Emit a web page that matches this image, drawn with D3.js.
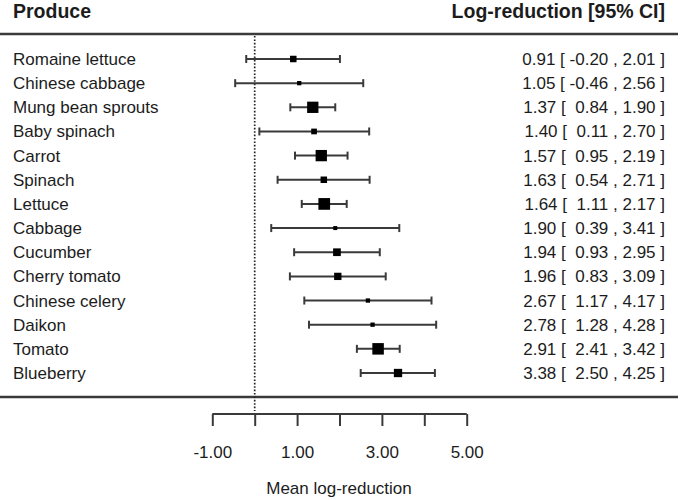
<!DOCTYPE html>
<html>
<head>
<meta charset="utf-8">
<script src="https://cdn.jsdelivr.net/npm/d3@7"></script>
<style>
  html, body { margin: 0; padding: 0; background: #fff; }
  svg { display: block; font-family: "Liberation Sans", Arial, Helvetica, sans-serif; }
</style>
</head>
<body>
<svg id="chart" width="680" height="500"></svg>
<script>
// ---- data ----
const produce = ["Romaine lettuce", "Chinese cabbage", "Mung bean sprouts", "Baby spinach", "Carrot",
  "Spinach", "Lettuce", "Cabbage", "Cucumber", "Cherry tomato", "Chinese celery", "Daikon", "Tomato", "Blueberry"];
const estimate = [0.91, 1.05, 1.37, 1.40, 1.57, 1.63, 1.64, 1.90, 1.94, 1.96, 2.67, 2.78, 2.91, 3.38];
const lower    = [-0.20, -0.46, 0.84, 0.11, 0.95, 0.54, 1.11, 0.39, 0.93, 0.83, 1.17, 1.28, 2.41, 2.50];
const upper    = [2.01, 2.56, 1.90, 2.70, 2.19, 2.71, 2.17, 3.41, 2.95, 3.09, 4.17, 4.28, 3.42, 4.25];
const weights  = [6.5, 4.3, 11.3, 5.7, 11.3, 6.5, 11.7, 4.0, 7.7, 7.3, 4.3, 4.3, 11.5, 8.3];
const tickValues = [-1, 0, 1, 2, 3, 4, 5];
const tickLabels = [-1, 1, 3, 5];
const headerLeft = "Produce";
const headerRight = "Log-reduction [95% CI]";
const axisTitle = "Mean log-reduction";

// ---- drawing ----
const svg = d3.select("#chart");
const ink = "#1c1c1c";
const lineCol = "#3a3a3a";

const x = d3.scaleLinear().domain([-1, 5]).range([212.3, 466.7]);
const y = d3.scalePoint().domain(produce).range([59, 373]);
const size = d3.scaleLinear().domain([0, d3.max(weights)]).range([0, 11.7]);

const rows = produce.map((p, i) => ({ p, est: estimate[i], lo: lower[i], hi: upper[i], w: weights[i] }));

// headers
svg.append("text").attr("x", 13).attr("y", 17.5)
  .attr("font-size", 19.5).attr("font-weight", "bold").attr("fill", ink).text(headerLeft);
svg.append("text").attr("x", 665).attr("y", 17.5).attr("text-anchor", "end")
  .attr("font-size", 19.5).attr("font-weight", "bold").attr("fill", ink).text(headerRight);

// horizontal rules
[34, 397].forEach(yy => {
  svg.append("line").attr("x1", 0).attr("x2", 678).attr("y1", yy).attr("y2", yy)
    .attr("stroke", lineCol).attr("stroke-width", 2.5);
});

// reference dotted line at 0
svg.append("line").attr("x1", x(0)).attr("x2", x(0)).attr("y1", 36).attr("y2", 411)
  .attr("stroke", "#222").attr("stroke-width", 1.7).attr("stroke-dasharray", "1.6,1.8");

// row labels
svg.append("g").selectAll("text").data(rows).join("text")
  .attr("x", 13).attr("y", d => y(d.p) + 6)
  .attr("font-size", 17).attr("fill", ink).text(d => d.p);

// right column text
const f2 = v => v.toFixed(2);
const padNeg = v => (v < 0 ? "" : " ") + f2(v);
svg.append("g").selectAll("text").data(rows).join("text")
  .attr("x", 665).attr("y", d => y(d.p) + 6).attr("text-anchor", "end")
  .attr("font-size", 17).attr("fill", ink).style("white-space", "pre")
  .text(d => `${f2(d.est)} [ ${padNeg(d.lo)} , ${f2(d.hi)} ]`);

// CI lines
const g = svg.append("g");
const sw = 2;
g.selectAll("line.ci").data(rows).join("line").attr("class", "ci")
  .attr("x1", d => x(d.lo)).attr("x2", d => x(d.hi))
  .attr("y1", d => y(d.p)).attr("y2", d => y(d.p))
  .attr("stroke", lineCol).attr("stroke-width", sw);
g.selectAll("line.capl").data(rows).join("line").attr("class", "capl")
  .attr("x1", d => x(d.lo)).attr("x2", d => x(d.lo))
  .attr("y1", d => y(d.p) - 4).attr("y2", d => y(d.p) + 4)
  .attr("stroke", lineCol).attr("stroke-width", sw);
g.selectAll("line.caph").data(rows).join("line").attr("class", "caph")
  .attr("x1", d => x(d.hi)).attr("x2", d => x(d.hi))
  .attr("y1", d => y(d.p) - 4).attr("y2", d => y(d.p) + 4)
  .attr("stroke", lineCol).attr("stroke-width", sw);
g.selectAll("rect").data(rows).join("rect")
  .attr("x", d => x(d.est) - size(d.w) / 2).attr("y", d => y(d.p) - size(d.w) / 2)
  .attr("width", d => size(d.w)).attr("height", d => size(d.w))
  .attr("fill", "#000");

// x axis
const axis = d3.axisBottom(x).tickValues(tickValues).tickSize(12)
  .tickFormat(d => tickLabels.includes(d) ? d.toFixed(2) : "");
const ax = svg.append("g").attr("transform", "translate(0,414)").call(axis);
ax.select(".domain").attr("stroke", lineCol).attr("stroke-width", 2)
  .attr("d", `M${x(-1)},0H${x(5)}`);
ax.selectAll(".tick line").attr("stroke", lineCol).attr("stroke-width", 2);
ax.selectAll(".tick text").attr("font-size", 17).attr("fill", ink)
  .attr("font-family", "Liberation Sans, Arial, sans-serif").attr("y", 44).attr("dy", 0);

svg.append("text").attr("x", 339).attr("y", 494).attr("text-anchor", "middle")
  .attr("font-size", 17).attr("fill", ink).text(axisTitle);
</script>
</body>
</html>
